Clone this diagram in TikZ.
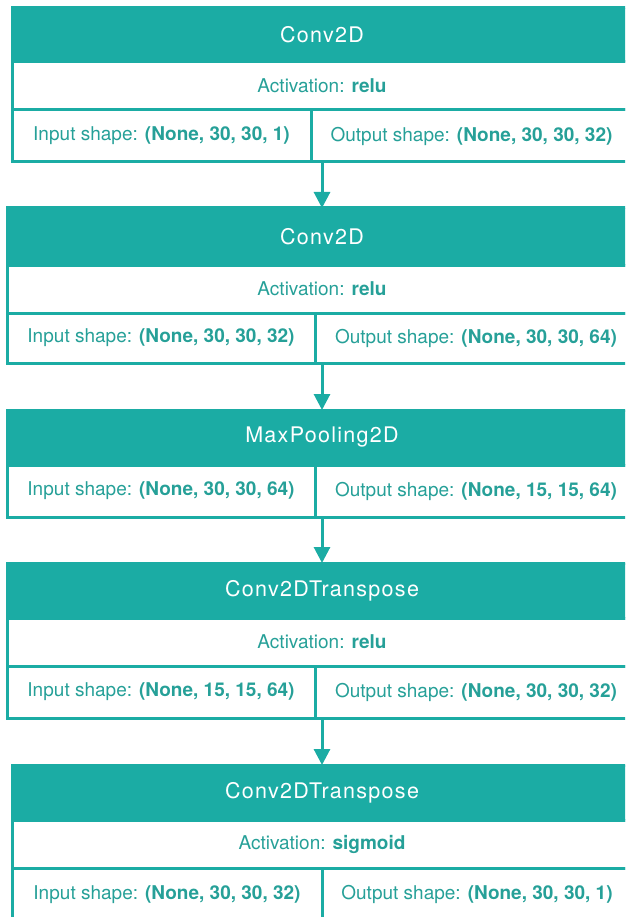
\documentclass[tikz,border=0pt]{standalone}
\usepackage{fontspec}
\setmainfont{TeX Gyre Heros}
\newfontfamily\hdrfont[LetterSpace=6]{TeX Gyre Heros}
\usetikzlibrary{arrows.meta}
\definecolor{tealfill}{RGB}{27,172,164}
\definecolor{tealtxt}{RGB}{38,160,152}
\tikzset{
  cell/.style={draw=tealfill, line width=3pt, rectangle, inner sep=0pt, outer sep=0pt,
    text=tealtxt, font=\fontsize{19}{22}\selectfont},
  hdr/.style={cell, fill=tealfill, text=white, font=\hdrfont\fontsize{21.5}{25}\selectfont},
  flow/.style={draw=tealfill, line width=3pt, -{Triangle[length=16pt,width=16pt]}},
}
% style, name, x1, x2, y1, y2, text
\newcommand\mkcell[7]{%
  \node[#1, minimum width={(#4-#3)*1pt}, minimum height={(#6-#5)*1pt}]
    (#2) at ({(#3+#4)/2},{(#5+#6)/2}) {#7};}
\begin{document}
\begin{tikzpicture}[x=1pt,y=-1pt]
\useasboundingbox (0,0) rectangle (625,917);
\clip (0,0) rectangle (625,917);
% Block 1
\mkcell{hdr}{b1h}{12}{632}{8}{62}{Conv2D}
\mkcell{cell}{b1a}{12}{632}{62}{110}{Activation: \textbf{relu}}
\mkcell{cell}{b1i}{12}{311}{110}{162}{Input shape: \textbf{(None, 30, 30, 1)}}
\mkcell{cell}{b1o}{311}{632}{110}{162}{Output shape: \textbf{(None, 30, 30, 32)}}
% Block 2
\mkcell{hdr}{b2h}{7}{637}{208}{265}{Conv2D}
\mkcell{cell}{b2a}{7}{637}{265}{313}{Activation: \textbf{relu}}
\mkcell{cell}{b2i}{7}{315}{313}{363}{Input shape: \textbf{(None, 30, 30, 32)}}
\mkcell{cell}{b2o}{315}{637}{313}{363}{Output shape: \textbf{(None, 30, 30, 64)}}
% Block 3
\mkcell{hdr}{b3h}{7}{637}{410}{465}{MaxPooling2D}
\mkcell{cell}{b3i}{7}{315}{465}{517}{Input shape: \textbf{(None, 30, 30, 64)}}
\mkcell{cell}{b3o}{315}{637}{465}{517}{Output shape: \textbf{(None, 15, 15, 64)}}
% Block 4
\mkcell{hdr}{b4h}{7}{637}{563}{618}{Conv2DTranspose}
\mkcell{cell}{b4a}{7}{637}{618}{666}{Activation: \textbf{relu}}
\mkcell{cell}{b4i}{7}{315}{666}{718}{Input shape: \textbf{(None, 15, 15, 64)}}
\mkcell{cell}{b4o}{315}{637}{666}{718}{Output shape: \textbf{(None, 30, 30, 32)}}
% Block 5
\mkcell{hdr}{b5h}{12}{632}{765}{820}{Conv2DTranspose}
\mkcell{cell}{b5a}{12}{632}{820}{868}{Activation: \textbf{sigmoid}}
\mkcell{cell}{b5i}{12}{322}{868}{921}{Input shape: \textbf{(None, 30, 30, 32)}}
\mkcell{cell}{b5o}{322}{632}{868}{921}{Output shape: \textbf{(None, 30, 30, 1)}}
% Arrows
\draw[flow] (b1h.center |- b1i.south) -- (b2h.north);
\draw[flow] (b2h.center |- b2i.south) -- (b3h.north);
\draw[flow] (b3h.center |- b3i.south) -- (b4h.north);
\draw[flow] (b4h.center |- b4i.south) -- (b5h.north);
\end{tikzpicture}
\end{document}
